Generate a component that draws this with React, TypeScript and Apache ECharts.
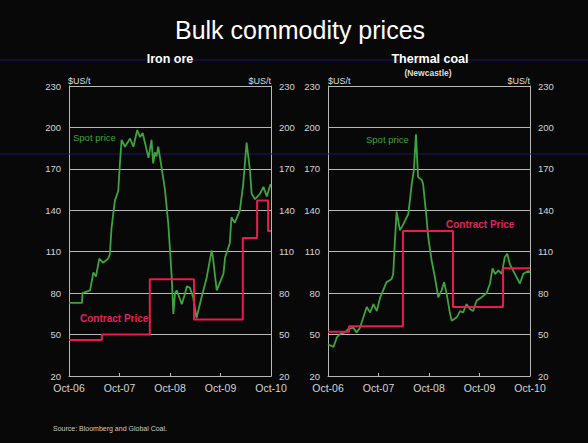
import React, { useEffect, useRef } from "react";
import * as echarts from "echarts";

const xTickLabels = ["Oct-06", "Oct-07", "Oct-08", "Oct-09", "Oct-10"];

// months since Oct-06
const ironSpotMonths = [0, 3.1, 3.2, 5, 5.8, 6.4, 7.2, 8.1, 9.3, 9.7, 10.1, 10.9, 11.7, 12.1, 12.5, 13.3, 14.5, 15.3, 16.2, 16.9, 17.5, 18.5, 18.9, 19.6, 20, 20.4, 20.8, 21.2, 22, 22.8, 23.6, 24.4, 24.8, 25.2, 25.6, 26.8, 27.6, 28, 28.7, 29.5, 30.3, 31.5, 32.7, 33.9, 34.2, 35.1, 35.9, 36.7, 37.1, 38.2, 38.6, 39.4, 40.2, 40.6, 41.4, 42.2, 43, 43.4, 44.2, 45.4, 46.2, 47, 47.9];
const ironSpotValues = [73, 73, 80, 82, 95, 92, 105, 102, 105, 108, 127, 147, 154, 174, 191, 186, 192, 186, 198, 193, 196, 183, 178, 191, 174, 182, 179, 186, 171, 155, 130, 92, 65, 80, 82, 72, 80, 85, 84, 77, 62, 77, 91, 111, 106, 82, 88, 94, 106, 116, 135, 131, 137, 140, 159, 189, 169, 152, 148, 152, 157, 150, 159];
const ironContractMonths = [0, 7.8, 19.2, 29.7, 41.3, 44.7, 47.3, 48];
const ironContractValues = [46, 50, 90, 61, 120, 147, 125, 125];

const coalSpotMonths = [0, 1.3, 2.1, 2.9, 4, 4.8, 6, 6.8, 7.6, 8.4, 9.2, 10, 10.8, 11.6, 12.4, 13.1, 13.9, 15.1, 15.5, 15.9, 16.3, 17.1, 17.9, 19.1, 19.9, 20.4, 20.9, 21.4, 22.3, 22.6, 23.4, 23.8, 24.6, 25.4, 26.2, 27, 27.6, 28.2, 29, 29.4, 30.6, 31.4, 32.1, 32.9, 33.7, 34.5, 35.3, 36.5, 37.7, 38.5, 39.1, 39.7, 40.5, 41.3, 42, 42.6, 43.2, 44.4, 45.6, 46.4, 47.6, 48];
const coalSpotValues = [43, 41, 48, 50.5, 51.6, 54, 55, 51.6, 55, 62.5, 70, 66, 72, 67, 77, 82, 88, 90, 94, 118, 139, 125.5, 130, 137.5, 159, 169, 195, 164, 162, 159, 135, 121, 104, 91.5, 77, 82, 88, 79.5, 65, 60, 62.5, 67, 66, 72, 68.6, 67, 74.5, 77, 80, 87, 98, 94, 96.4, 94, 106, 108.5, 101, 94, 87, 94, 96, 95];
const coalContractMonths = [0, 5, 17.8, 29.7, 41.6, 48];
const coalContractValues = [52, 56, 125, 70, 98, 98];

const FONT = "Liberation Sans, Arial, sans-serif";
const GRID_COLOR = "#b8b8b8";
const TICK_COLOR = "#d4d4d4";
const SPOT_COLOR = "#3fa33f";
const CONTRACT_COLOR = "#ea1b52";

const pairs = (xs: number[], ys: number[]) => xs.map((x, i) => [x, ys[i]]);

function makeX(gridIndex: number) {
  return {
    type: "value",
    gridIndex,
    min: 0,
    max: 48,
    interval: 12,
    axisLine: { show: true, lineStyle: { color: GRID_COLOR, width: 1 } },
    axisTick: { show: true, inside: true, length: 3, lineStyle: { color: GRID_COLOR } },
    splitLine: { show: false },
    axisLabel: {
      color: TICK_COLOR,
      fontFamily: FONT,
      fontSize: 10.5,
      margin: 6,
      formatter: (v: number) => xTickLabels[Math.round(v / 12)] ?? "",
    },
  };
}

function makeY(gridIndex: number, position: "left" | "right") {
  return {
    type: "value",
    gridIndex,
    position,
    min: 20,
    max: 230,
    interval: 30,
    axisLine: { show: true, lineStyle: { color: GRID_COLOR, width: 1 } },
    axisTick: { show: false },
    splitLine: { show: position === "left", lineStyle: { color: GRID_COLOR, width: 1 } },
    axisLabel: { color: TICK_COLOR, fontFamily: FONT, fontSize: 9.5, margin: 8 },
  };
}

export default function App() {
  const ref = useRef<HTMLDivElement>(null);
  useEffect(() => {
    document.body.style.margin = "0";
    if (!ref.current) return;
    const chart = echarts.init(ref.current, null, { renderer: "svg" });
    const txt = (text: string, x: number, y: number, size: number, color: string, opts: any = {}) => ({
      type: "text",
      x,
      y,
      style: {
        text,
        fill: color,
        fontFamily: FONT,
        fontSize: size,
        fontWeight: opts.bold ? "bold" : "normal",
        textAlign: opts.align || "left",
        textVerticalAlign: "middle",
      },
      z: 100,
    });
    chart.setOption({
      animation: false,
      backgroundColor: "#080808",
      grid: [
        { left: 69, right: 588 - 271, top: 86, bottom: 443 - 376 },
        { left: 328, right: 588 - 530, top: 86, bottom: 443 - 376 },
      ],
      xAxis: [makeX(0), makeX(1)],
      yAxis: [makeY(0, "left"), makeY(0, "right"), makeY(1, "left"), makeY(1, "right")],
      series: [
        {
          type: "line",
          xAxisIndex: 0,
          yAxisIndex: 0,
          data: pairs(ironSpotMonths, ironSpotValues),
          showSymbol: false,
          lineStyle: { color: SPOT_COLOR, width: 1.8 },
          z: 3,
        },
        {
          type: "line",
          xAxisIndex: 0,
          yAxisIndex: 0,
          step: "end",
          data: pairs(ironContractMonths, ironContractValues),
          showSymbol: false,
          lineStyle: { color: CONTRACT_COLOR, width: 2 },
          z: 4,
        },
        {
          type: "line",
          xAxisIndex: 1,
          yAxisIndex: 2,
          data: pairs(coalSpotMonths, coalSpotValues),
          showSymbol: false,
          lineStyle: { color: SPOT_COLOR, width: 1.8 },
          z: 3,
        },
        {
          type: "line",
          xAxisIndex: 1,
          yAxisIndex: 2,
          step: "end",
          data: pairs(coalContractMonths, coalContractValues),
          showSymbol: false,
          lineStyle: { color: CONTRACT_COLOR, width: 2 },
          z: 4,
        },
      ],
      graphic: [
        { type: "line", shape: { x1: 0, y1: 60, x2: 588, y2: 60 }, style: { stroke: "#16166a", lineWidth: 1 }, z: 1 },
        { type: "line", shape: { x1: 0, y1: 154, x2: 588, y2: 154 }, style: { stroke: "#16166a", lineWidth: 1 }, z: 1 },
        txt("Bulk commodity prices", 300, 30, 25, "#ffffff", { align: "center" }),
        txt("Iron ore", 170, 59, 12.5, "#ffffff", { bold: true, align: "center" }),
        txt("Thermal coal", 430, 59, 12.5, "#ffffff", { bold: true, align: "center" }),
        txt("(Newcastle)", 428, 73, 8.5, "#dddddd", { bold: true, align: "center" }),
        txt("$US/t", 68, 81, 9, "#dddddd"),
        txt("$US/t", 271, 81, 9, "#dddddd", { align: "right" }),
        txt("$US/t", 328, 81, 9, "#dddddd"),
        txt("$US/t", 530, 81, 9, "#dddddd", { align: "right" }),
        txt("Spot price", 73, 137, 9.5, SPOT_COLOR),
        txt("Spot price", 366, 139, 9.5, SPOT_COLOR),
        txt("Contract Price", 80, 318, 10, "#e0245e", { bold: true }),
        txt("Contract Price", 446, 224, 10, "#e0245e", { bold: true }),
        txt("Source: Bloomberg and Global Coal.", 53, 428, 7, "#cccccc"),
      ],
    });
    return () => chart.dispose();
  }, []);
  return <div ref={ref} style={{ position: "fixed", left: 0, top: 0, width: 588, height: 443 }} />;
}
